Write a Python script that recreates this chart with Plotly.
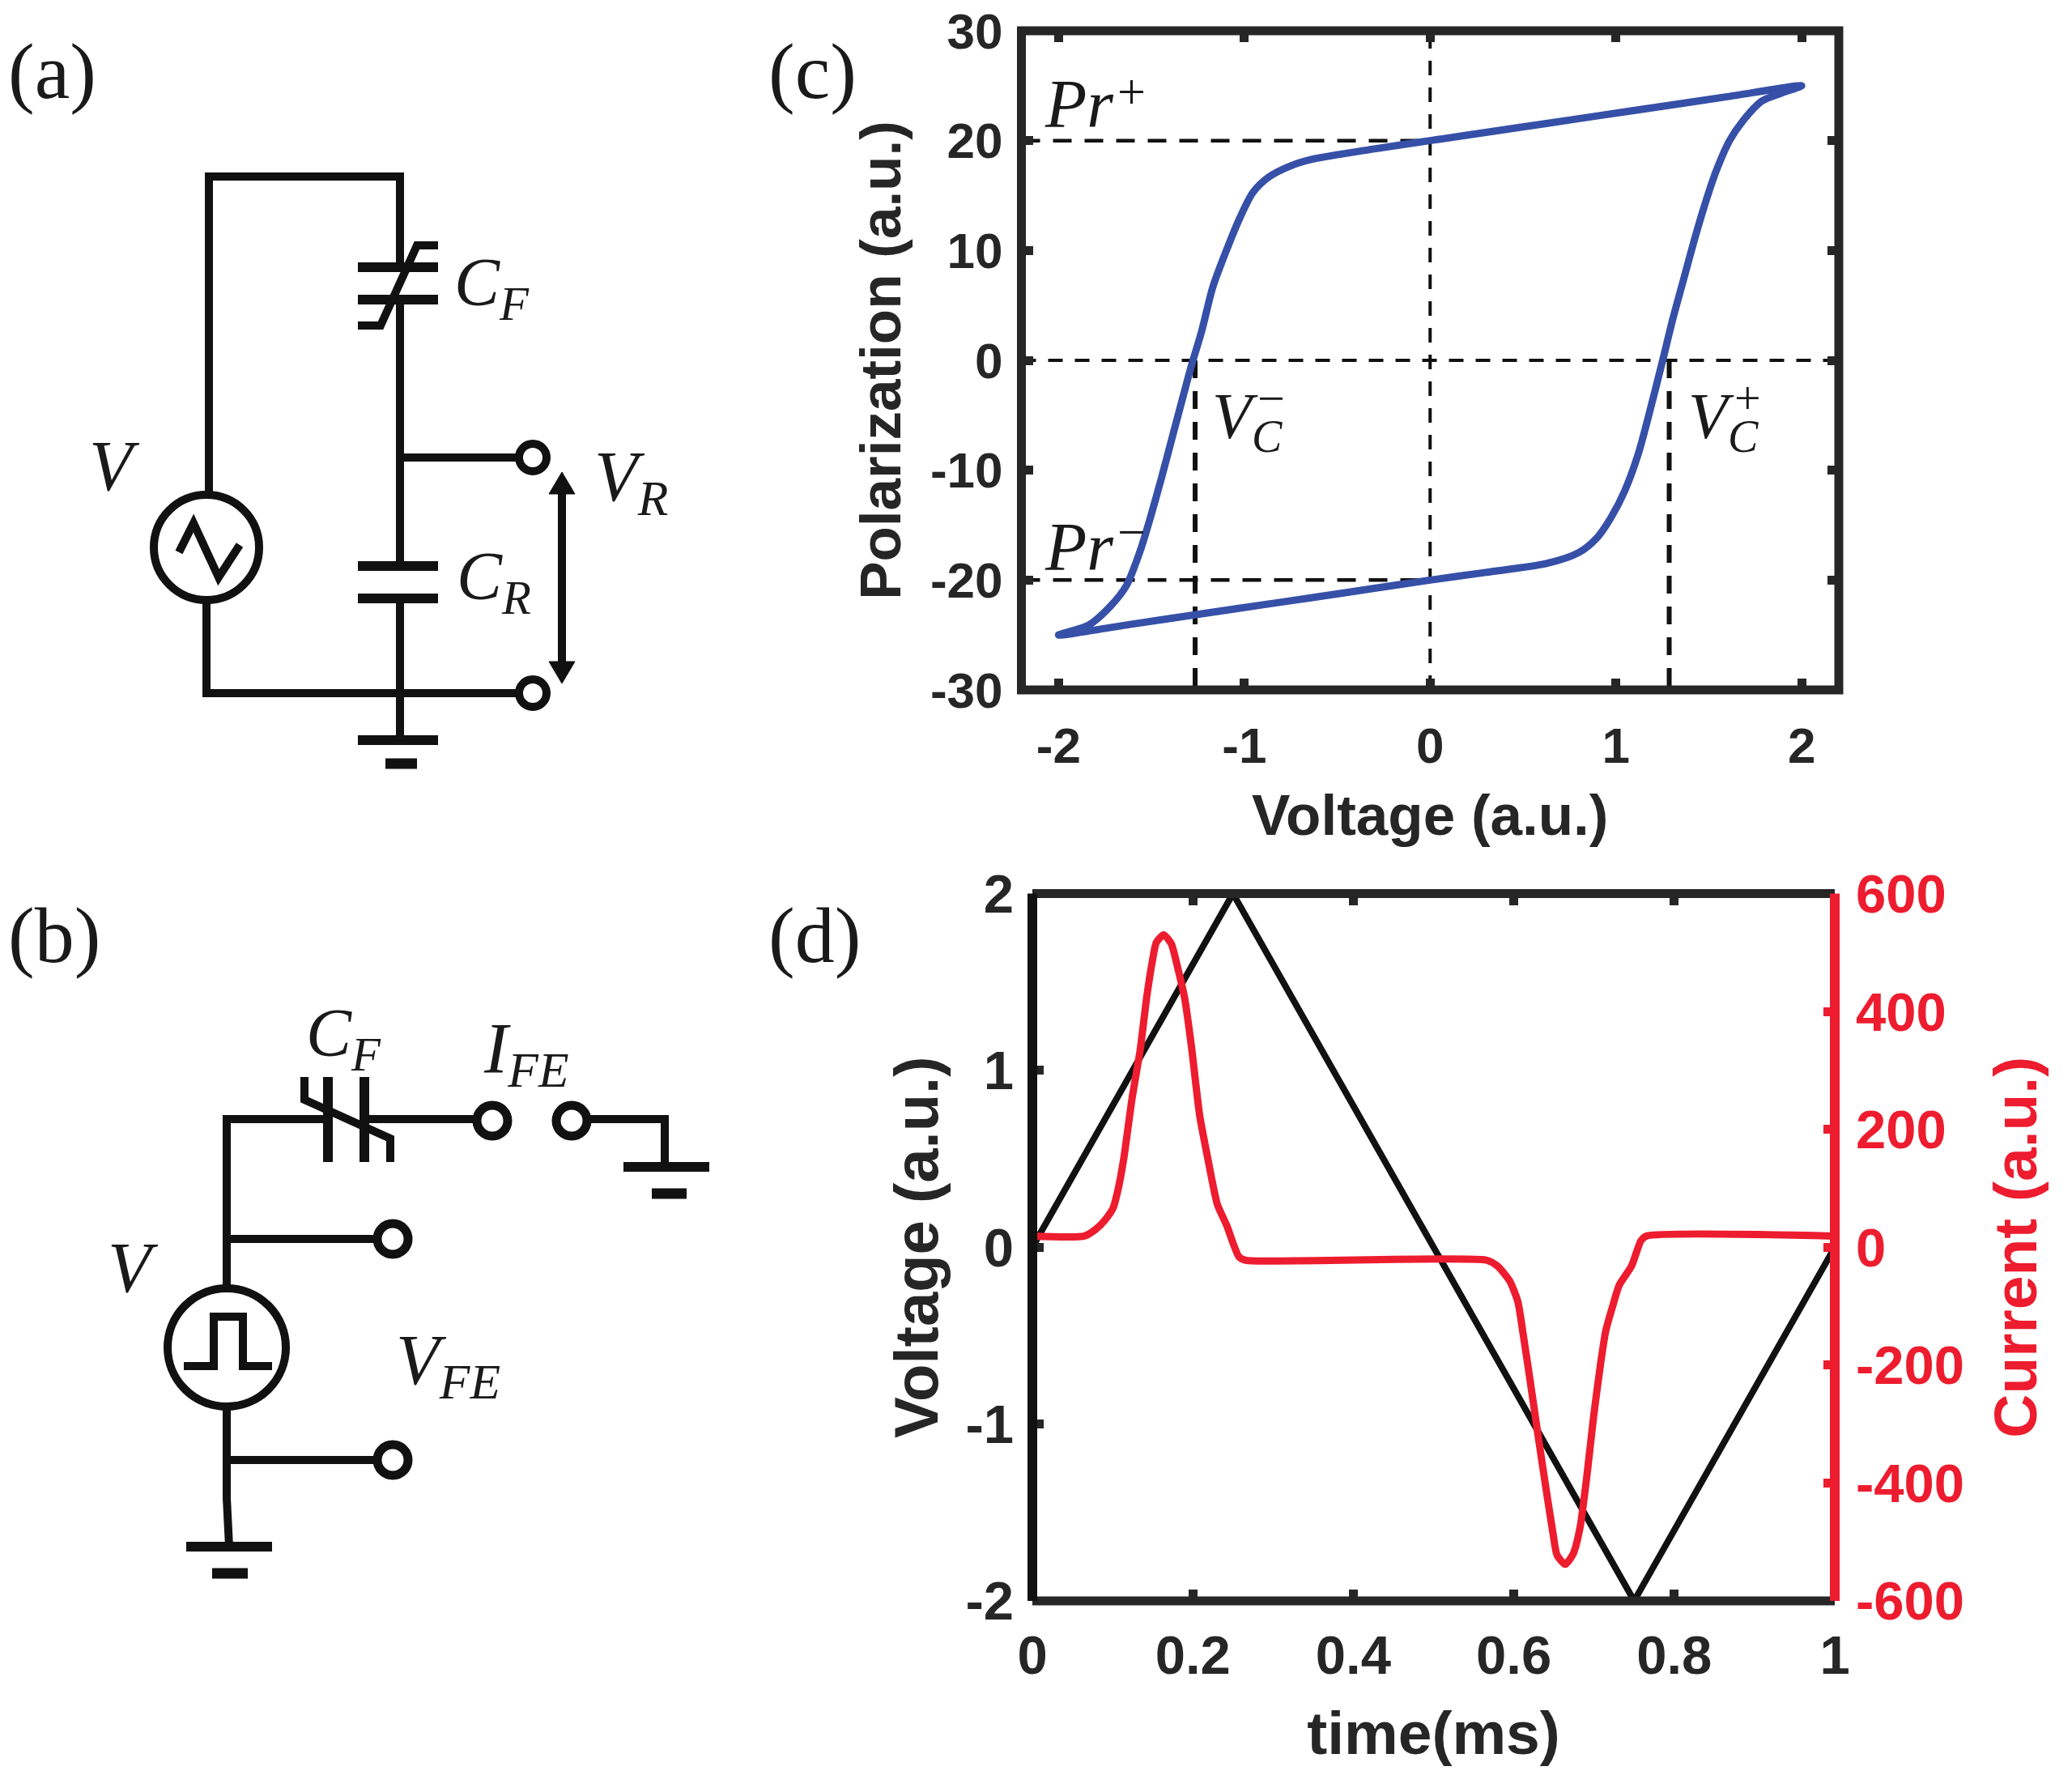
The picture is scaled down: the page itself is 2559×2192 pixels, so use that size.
import plotly.graph_objects as go

W, H = 2559, 2192

# ---------- panel (c) data ----------
hyst_voltage = [2, 1.6, 1.2, 0.9, 0.626, 0.3, 0, -0.3, -0.635, -0.751, -0.867, -0.953, -1.026, -1.099, -1.171, -1.229, -1.287,
                -1.33, -1.388, -1.446, -1.504, -1.562, -1.635, -1.722, -1.838, -2,
                -1.6, -1.2, -0.9, -0.635, -0.3, 0, 0.3, 0.626, 0.8, 0.901, 0.974, 1.047, 1.119, 1.177, 1.249, 1.307,
                1.365, 1.423, 1.481, 1.539, 1.612, 1.684, 1.786, 1.887, 2]
hyst_polar = [25, 24, 23, 22.25, 21.56, 20.75, 20, 19.25, 18.3, 17.7, 16.7, 15.3, 12.9, 9.9, 6.6, 2.7, -0.6,
              -3.3, -7.0, -10.7, -14.2, -17.4, -20.5, -22.4, -24.1, -25,
              -24, -23, -22.25, -21.6, -20.75, -20, -19.3, -18.5, -17.5, -16.1, -14.3, -11.9, -8.6, -5, -0.2, 3.8,
              7.4, 11.0, 14.3, 17.2, 20, 21.8, 23.6, 24.3, 25]
vc_neg, vc_pos, pr_pos, pr_neg = -1.265, 1.287, 20, -20
c_xticks = [-2, -1, 0, 1, 2]
c_xlabels = ["-2", "-1", "0", "1", "2"]
c_yticks = [-30, -20, -10, 0, 10, 20, 30]
c_ylabels = ["-30", "-20", "-10", "0", "10", "20", "30"]

# ---------- panel (d) data ----------
time_v = [0, 0.25, 0.75, 1]
voltage = [0, 2, -2, 0]
time_i = [0, 0.065, 0.0786, 0.0904, 0.1005, 0.1073, 0.114, 0.1242, 0.1343, 0.1427, 0.1495, 0.1545, 0.1636, 0.1731, 0.1815,
          0.19, 0.1984, 0.2085, 0.2186, 0.2305, 0.2422, 0.2574, 0.2659, 0.5661, 0.5797, 0.5948, 0.605, 0.6116, 0.6201,
          0.6303, 0.6404, 0.6488, 0.6538, 0.664, 0.6741, 0.6825, 0.691, 0.6994, 0.7078, 0.7146, 0.723, 0.7315, 0.7467,
          0.7584, 0.7652, 1]
current = [19, 19, 30, 46, 66, 101, 151, 252, 334, 426, 485, 517, 530, 515, 472,
           421, 339, 224, 151, 73, 37, -16, -22, -22, -32, -57, -92, -147, -224,
           -320, -412, -485, -522, -538, -520, -476, -389, -288, -201, -142, -101, -64, -32,
           11, 19, 19]
d_xticks = [0, 0.2, 0.4, 0.6, 0.8, 1]
d_xlabels = ["0", "0.2", "0.4", "0.6", "0.8", "1"]
d_yticks = [-2, -1, 0, 1, 2]
d_ylabels = ["-2", "-1", "0", "1", "2"]
d_y2ticks = [-600, -400, -200, 0, 200, 400, 600]
d_y2labels = ["-600", "-400", "-200", "0", "200", "400", "600"]


def px(x):
    return x / W


def py(y):
    return 1 - y / H


AXIS = "#262626"
RED = "#ed1c2e"
BLUE = "#3650a8"
INK = "#111111"
SANS = "Liberation Sans"
SERIF = "Liberation Serif"

fig = go.Figure()

for xs, ys, w, d in [([-2.2, 0], [pr_pos, pr_pos], 4.5, "23px,16px"), ([-2.2, 0], [pr_neg, pr_neg], 4.5, "23px,16px"),
                     ([-2.2, 2.2], [0, 0], 4, "18px,15px"), ([0, 0], [-30, 30], 4, "18px,15px"),
                     ([vc_neg, vc_neg], [0, -30], 6, "22px,16px"), ([vc_pos, vc_pos], [0, -30], 6, "22px,16px")]:
    fig.add_trace(go.Scatter(x=xs, y=ys, mode="lines", line=dict(color="#111111", width=w, dash=d), xaxis="x", yaxis="y", showlegend=False))
fig.add_trace(go.Scatter(x=hyst_voltage, y=hyst_polar, mode="lines", line=dict(color=BLUE, width=9, shape="spline", smoothing=0.8),
                         xaxis="x", yaxis="y", showlegend=False))
fig.add_trace(go.Scatter(x=time_v, y=voltage, mode="lines", line=dict(color="#111111", width=8),
                         xaxis="x2", yaxis="y2", showlegend=False))
fig.add_trace(go.Scatter(x=time_i, y=current, mode="lines", line=dict(color=RED, width=9, shape="spline", smoothing=0.6),
                         xaxis="x2", yaxis="y3", showlegend=False))

TICKC = dict(family=SANS, size=62, color=AXIS, weight="bold")
TICKD = dict(family=SANS, size=67, color=AXIS, weight="bold")


def title(text, size, standoff, color=AXIS):
    return dict(text=text, font=dict(family=SANS, size=size, color=color, weight="bold"), standoff=standoff)


COMMON = dict(showgrid=False, zeroline=False, showline=False, ticks="inside", ticklen=14,
              tickwidth=11, tickcolor=AXIS, tickmode="array", automargin=False)

layout = dict(
    width=W, height=H, margin=dict(l=0, r=0, t=0, b=0, pad=0), paper_bgcolor="white", plot_bgcolor="rgba(0,0,0,0)",
    showlegend=False,
    xaxis=dict(COMMON, domain=[px(1261.5), px(2271)], range=[-2.2, 2.2], anchor="y", mirror="ticks", tickvals=c_xticks, ticktext=c_xlabels,
               tickfont=TICKC, ticklabelstandoff=27, title=title("Voltage (a.u.)", 71, 27)),
    yaxis=dict(COMMON, domain=[py(852), py(38)], range=[-30, 30], anchor="x", mirror="ticks", tickvals=c_yticks, ticktext=c_ylabels,
               tickfont=TICKC, ticklabelstandoff=22, title=title("Polarization (a.u.)", 71, 13)),
    xaxis2=dict(COMMON, domain=[px(1275), px(2266)], range=[0, 1], anchor="y2", mirror="ticks", tickvals=d_xticks, ticktext=d_xlabels,
                tickfont=TICKD, ticklabelstandoff=22, title=title("time(ms)", 75, 33)),
    yaxis2=dict(COMMON, domain=[py(1977), py(1103.5)], range=[-2, 2], anchor="x2", tickvals=d_yticks, ticktext=d_ylabels,
                tickfont=TICKD, ticklabelstandoff=22, title=title("Voltage (a.u.)", 76, 8)),
    yaxis3=dict(COMMON, domain=[py(1977), py(1103.5)], range=[-600, 600], anchor="x2", overlaying="y2", side="right",
                tickcolor=RED, tickvals=d_y2ticks, ticktext=d_y2labels,
                tickfont=dict(TICKD, color=RED), ticklabelstandoff=25, title=title("Current (a.u.)", 75, 37, RED)),
)

shapes = [
    dict(type="rect", xref="x domain", yref="y domain", x0=0, x1=1, y0=0, y1=1, line=dict(color=AXIS, width=11)),
    dict(type="line", xref="x2 domain", yref="y2 domain", x0=0, x1=1, y0=1, y1=1, line=dict(color=AXIS, width=11)),
    dict(type="line", xref="x2 domain", yref="y2 domain", x0=0, x1=1, y0=0, y1=0, line=dict(color=AXIS, width=11)),
    dict(type="line", xref="x2 domain", yref="y2 domain", x0=0, x1=0, y0=0, y1=1, line=dict(color="#111111", width=12)),
    dict(type="line", xref="x2 domain", yref="y2 domain", x0=1, x1=1, y0=0, y1=1, line=dict(color=RED, width=12)),
]


def seg(x0, y0, x1, y1, w=10):
    shapes.append(dict(type="line", xref="paper", yref="paper", x0=px(x0), y0=py(y0), x1=px(x1), y1=py(y1),
                       line=dict(color=INK, width=w)))


def poly(points, w=10, fill=None):
    d = "M " + " L ".join(f"{px(a):.5f},{py(b):.5f}" for a, b in points) + (" Z" if fill else "")
    shapes.append(dict(type="path", xref="paper", yref="paper", path=d, line=dict(color=INK, width=w),
                       fillcolor=fill if fill else "rgba(0,0,0,0)"))


def circ(cx, cy, r, w=10):
    shapes.append(dict(type="circle", xref="paper", yref="paper", x0=px(cx - r), x1=px(cx + r), y0=py(cy - r), y1=py(cy + r),
                       line=dict(color=INK, width=w), fillcolor="white"))


# circuit (a)
poly([(258, 610), (258, 218), (494, 218), (494, 330)])
seg(494, 370, 494, 697)
seg(442, 330, 541, 330, 12)
seg(442, 370, 541, 370, 12)
poly([(442, 402), (470, 402), (515, 303), (541, 303)], 10)
seg(494, 565, 640, 565)
seg(442, 699, 541, 699, 12)
seg(442, 739, 541, 739, 12)
seg(494, 739, 494, 914)
seg(442, 914, 541, 914, 12)
seg(476, 943, 515, 943, 13)
poly([(255, 743), (255, 856), (640, 856)])
circ(255, 676, 65, 10)
poly([(221, 682), (239, 646), (270, 713), (296, 673)])
circ(658, 565, 17, 10)
circ(658, 856, 17, 10)
seg(694, 600, 694, 825, 10)
poly([(694, 583), (710, 610), (678, 610)], 1, INK)
poly([(694, 844), (710, 817), (678, 817)], 1, INK)

# circuit (b)
poly([(280, 1591), (280, 1382), (405, 1382)])
seg(450, 1382, 590, 1382)
seg(405, 1330, 405, 1435, 12)
seg(450, 1330, 450, 1435, 12)
poly([(376, 1330), (376, 1358), (482, 1406), (482, 1435)], 10)
poly([(724, 1382), (821, 1382), (821, 1441)])
seg(770, 1441, 876, 1441, 12)
seg(805, 1474, 848, 1474, 13)
seg(280, 1530, 467, 1530)
circ(280, 1664, 73, 10)
poly([(227, 1687), (264, 1687), (264, 1626), (300, 1626), (300, 1687), (336, 1687)])
poly([(280, 1738), (280, 1850), (283, 1910)])
seg(280, 1803, 467, 1803)
seg(230, 1910, 336, 1910, 12)
seg(262, 1943, 306, 1943, 13)
circ(608, 1384, 19, 11)
circ(706, 1384, 19, 11)
circ(485, 1530, 19, 11)
circ(485, 1803, 19, 11)

layout["shapes"] = shapes

ann = []


def label(text, x, y, size=88, anchor="left", family=SERIF, color="#1a1a1a"):
    ann.append(dict(text=text, xref="paper", yref="paper", x=px(x), y=py(y), xanchor=anchor, yanchor="middle", showarrow=False,
                    font=dict(family=family, size=size, color=color), align="left"))


label("(a)", 8, 88, 98)
label("(b)", 8, 1155, 98)
label("(c)", 947, 88, 98)
label("(d)", 947, 1155, 98)
label("<i>C<sub>F</sub></i>", 559, 355, 84)
label("<i>V</i>", 108, 575)
label("<i>V<sub>R</sub></i>", 732, 595)
label("<i>C<sub>R</sub></i>", 562, 718, 84)
label("<i>C<sub>F</sub></i>", 376, 1282, 84)
label("<i>I<sub>FE</sub></i>", 595, 1300)
label("<i>V</i>", 131, 1565)
label("<i>V<sub>FE</sub></i>", 487, 1685)
label("<i>Pr</i>", 1288, 128, 84)
label("+", 1397, 113, 62, "center")
label("<i>Pr</i>", 1288, 676, 84)
label("−", 1397, 657, 62, "center")
label("<i>V<sub>C</sub></i>", 1495, 520, 80)
label("−", 1570, 492, 60, "center")
label("<i>V<sub>C</sub></i>", 2083, 520, 80)
label("+", 2158, 492, 58, "center")
layout["annotations"] = ann

fig.update_layout(**layout)
fig.write_html("out.html", config=dict(displayModeBar=False), post_script="document.body.style.margin='0';")
